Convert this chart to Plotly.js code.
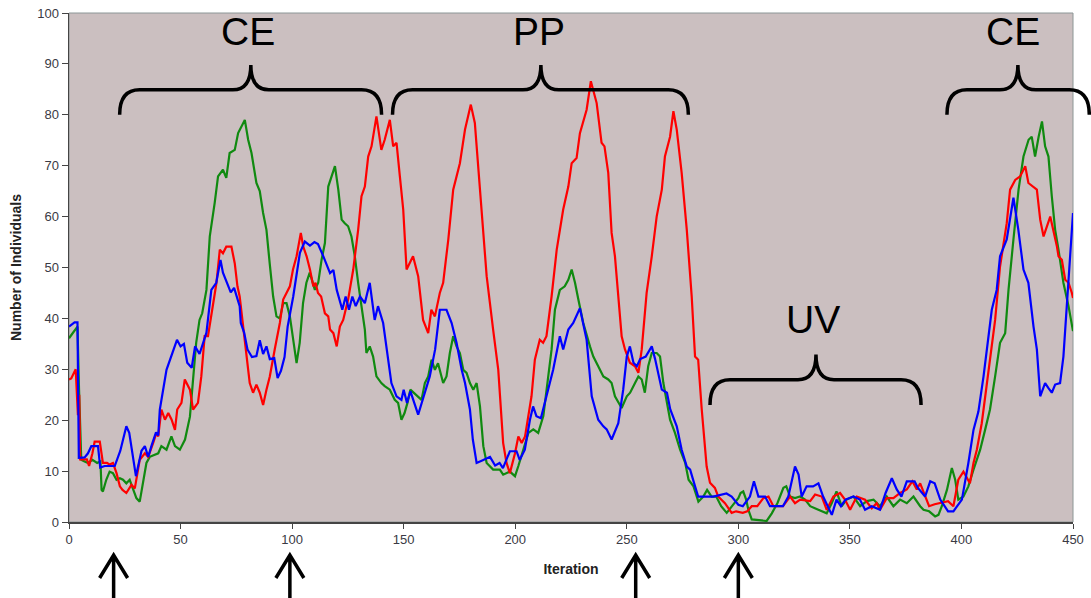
<!DOCTYPE html>
<html>
<head>
<meta charset="utf-8">
<script src="https://cdn.plot.ly/plotly-3.0.1.min.js"></script>
<style>html,body{margin:0;padding:0;background:#fff;}#chart{width:1091px;height:598px;}</style>
</head>
<body>
<div id="chart"></div>
<script>
// ---- data ----
const redX = [0,1,3,4,4.6,5,8,9,10.5,11.5,13.8,15.2,17,18.2,19.7,21.3,22.8,24,25.7,28,29.5,31.7,34,35.5,37.7,39.2,40,41.4,43,44.5,46,47.5,48.5,50.4,51.9,54.2,55.6,57.8,59.3,60.8,62.3,63.8,66.1,67.6,69,70.5,72.8,74.3,75.5,76.5,78.8,81,82.5,84,85.5,87,88.5,90,92.2,94.5,96,98.2,99,100.4,102,103.9,105,106.5,108,109.5,110.5,111.6,113,114.7,116.2,117,118.5,120,121.4,122.9,125.1,127.4,129.6,131.1,132.6,134.1,135.6,137.8,140,141.5,143.8,145.3,146.8,148.3,149.8,151.3,154.2,156.5,158.7,161,162.4,164,166.2,167.7,170,172.2,175.2,177.5,180.1,181.9,184.2,187.2,190.1,192.4,194.6,196.1,197.6,199.9,201.4,202.9,204.4,207.3,208.8,211,212.5,214,216.3,218.6,221.5,223.8,225.3,227.5,229,232,233.9,234.8,236.5,238.7,240,241.7,243.2,244.7,247.7,249.2,251.4,253.7,255.2,256.7,258.9,261.2,263.4,265.7,267.1,269.4,270.9,272.4,274.6,276.9,279.1,280.6,282,283.6,285.8,287.3,289.5,291,294,297,299,302,304,306,308.5,311.2,313.5,315.7,320,323.2,325.4,327.7,332.2,334.4,337.4,339.6,342.6,345.6,347.8,350.1,353.1,356.8,359.8,362,363.5,366.5,369.5,372.5,375.5,378,380,381.5,383.7,385.5,388,390.5,394,396.4,398.6,400.9,402.3,403.8,405.4,406.9,409.1,412.1,415.1,417.3,420.3,421.8,424.1,426.3,428.6,430,432.3,433.8,435.3,436.8,439.8,441.5,442.8,443.5,445,446.5,448,449.5,450];
const redY = [28,28.2,30,21,25,12.3,12.3,11,13.5,15.8,15.8,11.6,11.6,11.3,11.6,9.6,7,6.3,5.7,7.3,6.6,12.2,13.5,12.8,15.5,17.5,16.8,22.1,20.1,21.4,20.1,18.1,22.1,23.4,28,26,22.1,23.4,28.6,36.5,36.5,40.4,47,53.5,52.8,54.1,54.1,50.8,46.3,44.3,35.8,27.3,25.4,27,25.4,23,26,28.6,33.9,39.1,43.7,45.6,46.3,49.6,52.2,56.8,54.1,52.2,49.6,46.3,47,45,44.3,41,40.4,37.8,37.1,34.5,38.4,39.7,43.7,49.6,57.4,64,65.9,71.8,73.8,79.7,73.1,75.1,79,73.8,74.5,67.9,61.4,49.6,52.2,48.3,39.7,37.1,41.7,40.4,45,47,55.5,65.3,70.5,77.1,82,78.4,65.3,48.3,37.8,29.9,15.5,11.6,9.6,13.5,16.8,15.5,16.8,24.7,31.9,35.8,35.2,36.5,44.3,53.5,61.4,65.9,70.5,71.5,76.4,81,86.6,85,82.3,74.5,73.8,68.6,56.8,52.2,36.5,33.9,31.3,30.6,29.3,33.9,45,52.2,60,65.3,71.8,75.7,80.7,77.1,68.6,57.4,44.3,32.5,31.9,22.1,10.9,7.7,6.7,5,3.7,1.8,2.1,1.8,2.1,3.1,3.1,4.7,5,3.1,3.1,5,3.7,4.4,4.1,5.4,5,2.4,5,5.7,4.4,2.4,5,4.4,2.7,3.7,2.4,4.7,4.7,5.7,6.4,8,6.4,7.6,5,3.1,3.5,3.7,4.1,3.1,8.3,9.9,8.9,7.6,11.6,14.2,19.4,29.3,39.7,50.2,58.7,65.3,67.2,67.9,69.9,66.6,65.9,65.3,59.4,56.1,60,56.8,54.1,52.2,51.5,47.6,47,45,44];

const greenX = [0,2.8,3.8,4.5,5.5,7,8.5,10.5,12.6,14.1,14.6,15.2,16.7,18.2,19.7,21.3,22.8,24.2,25.7,27.2,28.7,30.2,31.7,33.2,34.7,36.2,38.5,40,41.4,43.7,45.9,47.5,49.7,52,54.2,55.6,57,58.5,59.7,61.6,63.1,65.3,66.8,69,70.5,72,74.3,75.8,77.2,78.8,80.3,81.8,84,85.5,87,88.5,90,91.5,93,94.5,96,97.5,99,100.4,102,103.4,104.9,106.4,107.9,110.2,111.7,113.2,114.7,116.2,117.7,119.2,120.7,122.2,123.6,125.1,126.6,128.1,129.6,131.1,132.6,133.3,134.8,136.3,137.8,140,141.5,143.8,146,147.5,149,150.4,151.7,153,154.5,156.5,158,159.5,161,162.5,164,165.4,167.7,169.2,170.7,172.2,173.7,175.2,176.7,178.2,179.7,181.2,182.7,184.2,185.7,187.2,190.1,193.1,194.6,197.6,199.9,201.4,203.6,205.9,208.1,210.3,212.6,214,216.3,217.8,220,222.2,223.8,225.3,226.8,228.3,230.5,233.5,235,237.2,239.5,241.7,243.2,244.7,246.2,247.7,250,251.5,253.7,255.2,256.7,258.1,259.6,261.2,263.4,264.9,266.4,267.9,269.4,271.6,273.9,276.2,277.7,279.9,282.1,284.3,286,288,290.1,292.3,294.8,297.7,300,301,302.2,303.5,304.5,306,312.7,315,317.5,320.2,321.5,323.2,325.4,327.7,329.9,332.2,334.4,336.6,339.6,341.9,344,346.3,348.5,351.6,354.6,357.6,360.6,363.5,366.5,369.5,372.5,375.5,378.5,381.5,383,385.5,388.2,389.7,391.2,393.5,395.7,397.2,398.6,400.9,403.1,405.4,408.4,410.6,412.8,415.1,417.3,419.6,421.1,423.3,425.6,427.8,430.1,431.5,433,434.6,436.1,437.5,439,440.5,442,443.5,445.7,448,449.5,450];
const greenY = [36.1,37.8,38.4,26,12.2,11.9,11.6,12.2,11.6,11.9,6.3,6,8.3,9.9,9.6,8.3,8.6,8.3,7.6,8.3,6.3,4.7,4,7.6,11.6,12.8,13.2,13.5,14.9,14.2,16.8,14.9,14.2,16.2,20.7,28.6,35.2,39.7,41,45.6,56.1,62.7,67.9,69.2,67.6,72.5,73.1,76.4,77.7,79,75.1,72.5,66.6,65,60.7,57.4,50.6,44.3,40.4,40,43,43,40.4,36.5,31.2,35.2,43,47,49,45.6,47,51.5,54.8,65.9,67.9,69.9,65.3,59.4,58.7,58.1,56.1,52.2,47,42.4,37.8,33.2,34.5,32.5,28.6,27.3,26.7,26,24,23.4,20.1,21.4,23.4,26,25.4,24.7,24,27.3,28.6,31.9,29.9,31.2,27.3,28.6,33.2,36.5,34.5,33.2,29.9,29.3,27.3,26,27.3,22.7,14.9,11.6,10.3,10.3,9.3,9.9,9,11,14.2,17.5,18.2,17.5,20.8,26,33.9,41.7,45.6,46.3,47.6,49.6,47,43.7,39.1,34.5,32.5,30.6,28.6,28,27.3,24.7,23.4,22.4,24.7,25.4,27.3,28.6,28,25.4,30.6,33.2,33.2,32.5,27.3,24,20.1,17.5,14.2,11.6,8.3,7,4,5,6.3,5,5,3.1,1.8,3.4,4.7,5.7,6,4.4,2.4,0.5,0.2,1.7,3.7,6.7,7,5,4.7,5,4.4,3.1,2.7,2.4,1.7,3.7,6,3.1,4.4,5,3.1,4.1,4.4,3.1,5,3.1,4.4,3.7,5,3.1,2.4,2.1,1.1,1.4,3.1,6.3,10.6,8.3,4.4,5,7,10.3,14.2,18.1,22.1,28.6,35.2,37.1,45.6,55.5,65.3,71.8,75.1,75.7,71.8,75.7,78.7,73.8,71.8,64,57.4,53.5,47,42.4,38.4,37.5];

const blueX = [0,2.5,3.8,4.4,7,8.5,10,13,14,16,20.5,23,25.7,27,30,32.5,34,35.5,37,39,40,40.7,43.7,48.4,50,51.5,53,55,56.5,58.5,61.6,63.8,66,67.9,69,70.5,72.5,74,76.5,77,78.5,80,82,84,85.5,87,88.5,90,92,93.5,95,96.6,98,100.5,103.5,105.7,108,110,111.6,114,117,118.5,120,122.5,124,125.5,127,128.5,130.4,132.6,134.8,137,138.5,140.8,143,144.5,146.8,149,150,151.5,153,156.5,159,161.7,164.1,166.2,169.2,171.5,173.7,176,177.5,179.7,181,182.7,185.7,188.7,191,193,194.5,197.6,200.6,202,204.3,206.6,208,209.5,211.5,214.8,217,220,221.5,223.8,226,229,232,234.3,237.2,239.5,241,243.2,246.2,248.4,250,251.4,253,254.5,256,258.5,261.2,262.7,264.2,265.7,268,269.5,272.4,274.6,276.9,278.4,280.6,282,288.8,291.7,294.7,297,300,302,305.2,307,309,312,314.2,320,322.4,325.4,327,328.4,330.6,333.5,335.9,338,340,341.9,344,346,348,351.6,354.5,356.8,359.8,363.5,366,368.8,371,373.1,375.5,379,380.5,383.7,386,388,390.5,394,396.4,400.2,403.1,405.4,407.6,409.9,413.6,415.8,417.3,420.3,423.3,425.5,427.8,430,432.3,433.8,435.3,437.5,439,440.5,442,444.2,445.7,447.2,449.5,450];
const blueY = [38.4,39.2,39.2,12.6,12.7,13.5,14.9,14.9,10.7,11,11,14,18.8,17.5,9,14,14.9,12.8,15,17.6,17,22.1,29.9,35.8,34.5,35,31.3,30.3,34.5,33,37.2,45.6,47,51.5,49,47.3,45.1,46,42.4,39.1,37.2,33.9,32.4,32.6,35.7,33,34.5,32,32.2,28.3,29.7,32.4,38.4,44.3,52.9,55.1,54.3,55,54.6,52.2,48.9,49.5,45.6,41.7,44.3,41.7,44.3,42.4,44.3,43,47,39.7,42.4,39.1,32.5,27.3,24.7,24,26,23.4,25.7,21.1,24.7,28.6,33.9,41.7,41.7,39.1,35.2,29.9,27.3,22.1,16.2,11.6,12.2,12.8,11.1,11.6,10.6,13.9,13.9,12.2,14.2,20.1,22.7,20.8,20.4,26,29.9,36.5,33.9,37.8,39.1,42,35.8,24.7,20.1,18.8,18.2,16.2,19.4,26,32.5,34.5,31.3,30.6,32,32.5,34.5,32,29.3,26,25.4,22.1,18.8,14.2,10.9,10.3,7,5,5,5.3,5.6,5,3.4,3.1,5,8,5,5,3.1,3.1,5,10.9,9.3,5,7,7,7.6,5,3.1,1.4,4.4,3.1,4.4,5,4.4,2.4,3.1,2.4,5.7,8.6,6.4,5,8,8,6.7,5,8,7.6,4.4,2.1,2.1,4.4,11.6,18.1,21.7,28.6,41.7,45.6,52.2,55.5,63.7,57.4,49.6,47,38.4,33.9,24.7,27.3,26.3,25.4,27,27.3,32.5,43,56.8,60.7];

const xTicks = [0,50,100,150,200,250,300,350,400,450];
const yTicks = [0,10,20,30,40,50,60,70,80,90,100];

// phase annotations: label, brace start, brace centre, brace end, brace end height, brace top height
const phaseLabels = ['CE','PP','UV','CE'];
const braceStart  = [22.7, 145.0, 287.3, 393.5];
const braceMid    = [81.5, 211.5, 334.8, 425.3];
const braceEnd    = [140.1, 277.6, 381.9, 457.3];
const braceLow    = [80.0, 80.0, 23.0, 80.0];
const braceTop    = [89.8, 89.8, 32.9, 89.8];
const labelX      = [80.4, 210.5, 333.3, 423.2];
const labelY      = [96.3, 96.3, 39.7, 96.3];
// iterations marked with arrows below the axis
const arrowIters  = [20, 99, 254, 300];

// ---- layout helpers ----
const W = 1091, H = 598;
const M = {l: 69, r: 18, t: 13, b: 76};
const plotW = W - M.l - M.r, plotH = H - M.t - M.b;
const XR = [0, 450], YR = [0, 100];
const px = x => (x - XR[0]) / (XR[1] - XR[0]);   // data -> paper
const py = y => (y - YR[0]) / (YR[1] - YR[0]);

const shapes = [];
// plot frame (top/right lighter)
shapes.push({type:'rect', xref:'paper', yref:'paper', x0:0, x1:1, y0:0, y1:1,
  line:{color:'#8c9696', width:1}, layer:'below'});

// braces
for (let i = 0; i < phaseLabels.length; i++) {
  const x0 = px(braceStart[i]), xc = px(braceMid[i]), x1 = px(braceEnd[i]);
  const yE = py(braceLow[i]), yT = py(braceTop[i]), yH = (yE + yT) / 2;
  const r = 20 / plotW, rc = 18 / plotW;
  const p = `M ${x0},${yE} Q ${x0},${yH} ${x0 + r},${yH} L ${xc - rc},${yH} Q ${xc},${yH} ${xc},${yT} ` +
            `Q ${xc},${yH} ${xc + rc},${yH} L ${x1 - r},${yH} Q ${x1},${yH} ${x1},${yE}`;
  shapes.push({type:'path', xref:'paper', yref:'paper', path:p,
    line:{color:'#000', width:3.5}});
}
// arrows
const tipY = -33 / plotH, botY = -80 / plotH, headH = 23 / plotH, headW = 14 / plotW;
arrowIters.forEach(it => {
  const x = px(it);
  const p = `M ${x},${botY} L ${x},${tipY} M ${x - headW},${tipY - headH} L ${x},${tipY} L ${x + headW},${tipY - headH}`;
  shapes.push({type:'path', xref:'paper', yref:'paper', path:p, line:{color:'#000', width:3.5}});
});

const annotations = phaseLabels.map((t, i) => ({
  text: t, x: labelX[i], y: labelY[i], xref:'x', yref:'y', showarrow:false,
  xanchor:'center', yanchor:'middle',
  font:{family:'Liberation Sans, Arial, sans-serif', size:39, color:'#000'}
}));

const lineW = 2.2;
const traces = [
  {x: greenX, y: greenY, type:'scatter', mode:'lines', line:{color:'#108a10', width:lineW}, name:'green'},
  {x: redX,   y: redY,   type:'scatter', mode:'lines', line:{color:'#ff0000', width:lineW}, name:'red'},
  {x: blueX,  y: blueY,  type:'scatter', mode:'lines', line:{color:'#0000ff', width:lineW}, name:'blue'}
];

const tickFont = {family:'Liberation Sans, Arial, sans-serif', size:13, color:'#3a3a44'};
const titleFont = {family:'Liberation Sans, Arial, sans-serif', size:14, color:'#222'};

const layout = {
  width: W, height: H,
  margin: M,
  paper_bgcolor:'#ffffff',
  plot_bgcolor:'#cbbfc0',
  showlegend:false,
  xaxis:{range:XR, tickvals:xTicks, ticktext:xTicks.map(String), ticks:'outside', ticklen:5,
    tickcolor:'#444', showline:true, linecolor:'#444', linewidth:1.5, showgrid:false, zeroline:false,
    tickfont:tickFont, automargin:false,
    title:{text:'<b>Iteration</b>', font:titleFont, standoff:18}},
  yaxis:{range:YR, tickvals:yTicks, ticktext:yTicks.map(String), ticks:'outside', ticklen:6,
    tickcolor:'#444', showline:true, linecolor:'#444', linewidth:1.5, showgrid:false, zeroline:false,
    tickfont:tickFont, automargin:false,
    title:{text:'<b>Number of Individuals</b>', font:titleFont, standoff:12}},
  shapes: shapes,
  annotations: annotations
};

Plotly.newPlot('chart', traces, layout, {displayModeBar:false, staticPlot:true});
</script>
</body>
</html>
